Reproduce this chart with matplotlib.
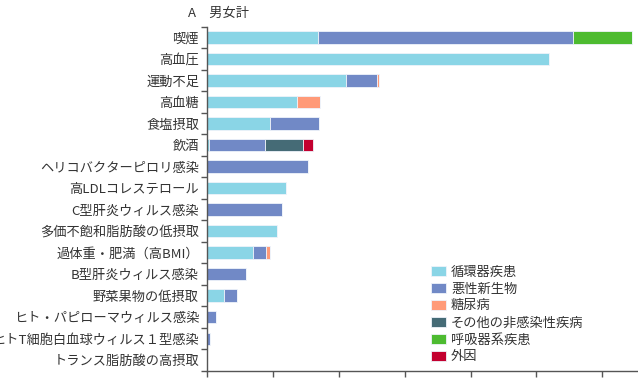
import numpy as np
import matplotlib
matplotlib.use("Agg")
import matplotlib.pyplot as plt

plt.rcParams['font.family'] = ['Noto Sans CJK JP', 'DejaVu Sans']

# ----------------------
# Data (deaths attributable to each risk factor, both sexes)
# ----------------------
factors = ["喫煙", "高血圧", "運動不足", "高血糖", "食塩摂取", "飲酒",
           "ヘリコバクターピロリ感染", "高LDLコレステロール", "C型肝炎ウィルス感染",
           "多価不飽和脂肪酸の低摂取", "過体重・肥満（高BMI）", "B型肝炎ウィルス感染",
           "野菜果物の低摂取", "ヒト・パピローマウィルス感染",
           "ヒトT細胞白血球ウィルス１型感染", "トランス脂肪酸の高摂取"]

diseases = ["循環器疾患", "悪性新生物", "糖尿病", "その他の非感染性疾病", "呼吸器系疾患", "外因"]
colors = ["#8AD5E6", "#7189C6", "#FF9A78", "#456B76", "#4DBB30", "#C3002F"]

circulatory   = [33700, 103700, 42200, 27200, 19000,   500,     0, 24000,     0, 21100, 13800,     0, 5100,    0,   0, 0]
cancer        = [77300,      0,  9300,     0, 15000, 17000, 30500,     0, 22800,     0,  4000, 11600, 4000, 2600, 900, 0]
diabetes      = [    0,      0,   800,  6900,     0,     0,     0,     0,     0,     0,  1200,     0,    0,    0,   0, 0]
other_ncd     = [    0,      0,     0,     0,     0, 11600,     0,     0,     0,     0,     0,     0,    0,    0,   0, 0]
respiratory   = [18200,      0,     0,     0,     0,     0,     0,     0,     0,     0,     0,     0,    0,    0,   0, 0]
external      = [    0,      0,     0,     0,     0,  3000,     0,     0,     0,     0,     0,     0,    0,    0,   0, 0]

series = [circulatory, cancer, diabetes, other_ncd, respiratory, external]

# ----------------------
# Plotting
# ----------------------
fig = plt.figure(figsize=(6.38, 3.86), dpi=100)
ax = fig.add_axes([0.325, 0.039, 0.673, 0.892])

y = np.arange(len(factors))
left = np.zeros(len(factors))
for name, vals, c in zip(diseases, series, colors):
    vals = np.array(vals, dtype=float)
    ax.barh(y, vals, left=left, height=0.57, color=c, edgecolor='#eef3fa',
            linewidth=0.6, label=name)
    left += vals

ax.set_ylim(len(factors) - 0.5, -0.5)
ax.set_xlim(0, 130500)
ax.set_yticks(y)
ax.set_yticklabels(factors, fontsize=9.5, color='#333333')
ax.tick_params(axis='y', length=0, pad=6)
ax.set_yticks(np.arange(len(factors) + 1) - 0.5, minor=True)
ax.tick_params(axis='y', which='minor', length=4.5, width=1, color='#555555')
ax.set_xticks(np.arange(0, 130000, 20000))
ax.set_xticklabels([])
ax.tick_params(axis='x', length=4, width=1, color='#555555')

for s in ['top', 'right']:
    ax.spines[s].set_visible(False)
for s in ['left', 'bottom']:
    ax.spines[s].set_color('#555555')
    ax.spines[s].set_linewidth(1)

ax.legend(loc='lower left', bbox_to_anchor=(0.52, 0.022), frameon=False,
          fontsize=9.5, handlelength=1.15, handleheight=0.75,
          labelspacing=0.3, handletextpad=0.4, borderaxespad=0,
          borderpad=0, labelcolor='#333333')

fig.text(0.295, 0.965, "A　男女計", fontsize=9.5, color='#333333', va='center')

plt.savefig("out.png", dpi=100)
